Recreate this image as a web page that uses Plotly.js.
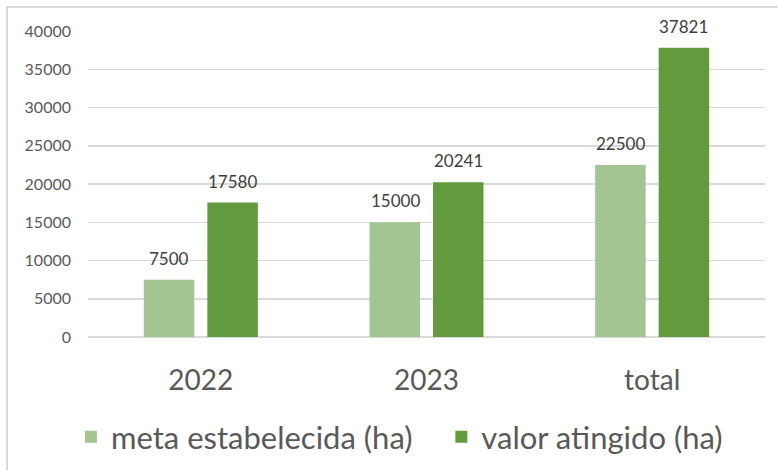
<!DOCTYPE html>
<html>
<head>
<meta charset="utf-8">
<script src="https://cdn.plot.ly/plotly-3.0.1.min.js"></script>
<style>
html,body{margin:0;padding:0;background:#fff;overflow:hidden;}
#frame{position:absolute;left:6px;top:6px;width:790px;height:490px;border:2px solid #D9D9D9;box-sizing:border-box;pointer-events:none;z-index:5;}
#chart{position:absolute;left:0;top:0;width:778px;height:470px;}
</style>
</head>
<body>
<div id="chart"></div>
<div id="frame"></div>
<script>
const categories = ["2022", "2023", "total"];
const metaValues = [7500, 15000, 22500];
const valorValues = [17580, 20241, 37821];
const seriesNames = ["meta estabelecida (ha)", "valor atingido (ha)"];
const yTicks = [0, 5000, 10000, 15000, 20000, 25000, 30000, 35000, 40000];

const FONT = "Lato, 'Open Sans', sans-serif";
const labelFont = {family: FONT, size: 17, color: "#404040"};
const colors = ["#A2C592", "#619B3E"];
const NB = "\u00A0";

const traces = [
  {type: "bar", name: seriesNames[0] + NB.repeat(3), x: categories, y: metaValues,
   marker: {color: colors[0]}, hoverinfo: "none"},
  {type: "bar", name: seriesNames[1], x: categories, y: valorValues,
   marker: {color: colors[1]}, hoverinfo: "none"}
];

const annotations = [];
[metaValues, valorValues].forEach(function(vals, s) {
  vals.forEach(function(v, i) {
    annotations.push({x: i, y: v, xref: "x", yref: "y", text: String(v),
      showarrow: false, xanchor: "center", yanchor: "bottom",
      xshift: s === 0 ? -31.5 : 31.5, yshift: 9, font: labelFont});
  });
});

const layout = {
  width: 778, height: 470,
  margin: {l: 88, r: 13, t: 31, b: 133},
  paper_bgcolor: "#fff", plot_bgcolor: "#fff",
  barmode: "group", bargap: 0.437, bargroupgap: 0.205,
  font: {family: FONT, color: "#595959"},
  annotations: annotations,
  xaxis: {type: "category", range: [-0.5, 2.5], tickfont: {family: FONT, size: 28, color: "#595959"},
          showline: false, ticks: "", ticklabelstandoff: 24, showgrid: false, zeroline: false},
  yaxis: {range: [0, 40000], tickvals: yTicks, ticktext: yTicks.map(String),
          tickfont: {family: FONT, size: 16, color: "#595959"},
          showgrid: true, gridcolor: "#D9D9D9", gridwidth: 1.5,
          zeroline: true, zerolinecolor: "#D9D9D9", zerolinewidth: 1.5,
          ticks: "", ticklabelstandoff: 16, showline: false},
  showlegend: true,
  legend: {orientation: "h", x: 0.46, xanchor: "center", yref: "container", y: 0.07, yanchor: "middle",
           font: {family: FONT, size: 31, color: "#595959"}, itemwidth: 30,
           traceorder: "normal"}
};

Plotly.newPlot("chart", traces, layout, {staticPlot: true, displayModeBar: false});
</script>
</body>
</html>
